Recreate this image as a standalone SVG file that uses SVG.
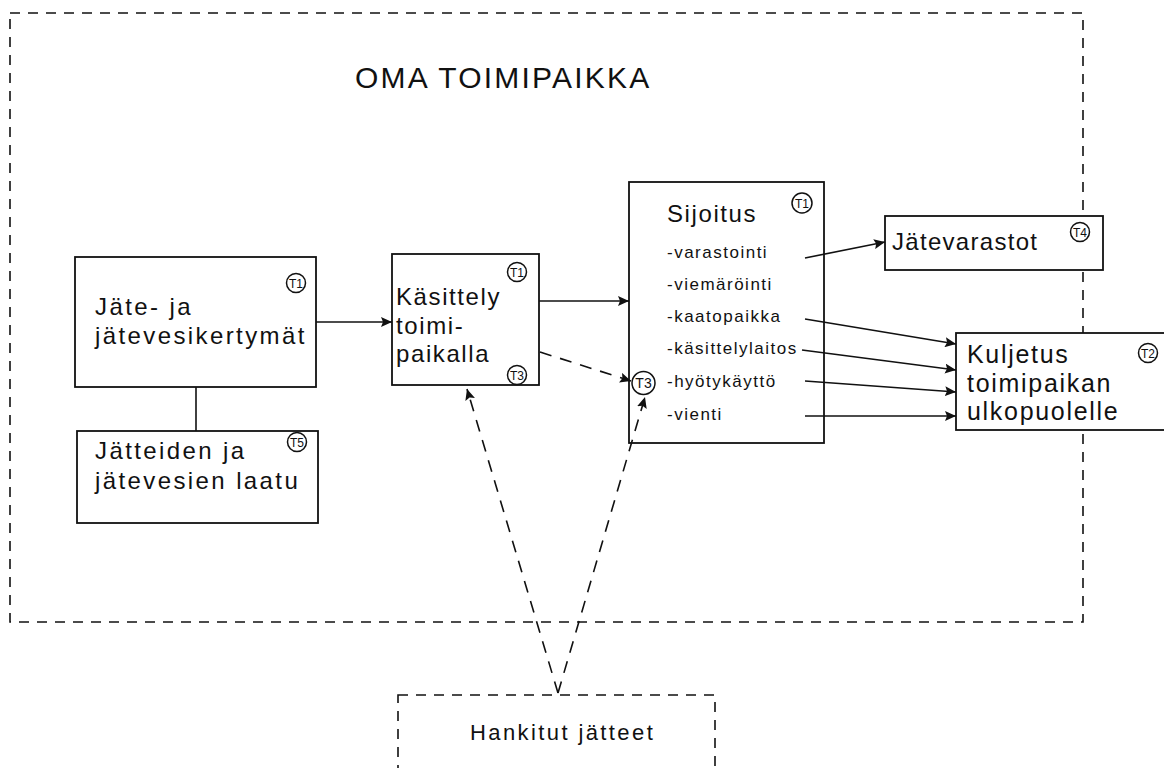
<svg xmlns="http://www.w3.org/2000/svg" width="1164" height="768" viewBox="0 0 1164 768">
<defs>
<marker id="ah" markerUnits="userSpaceOnUse" markerWidth="12" markerHeight="10" refX="11" refY="5" orient="auto">
<path d="M0,0 L11,5 L0,10 L2,5 z" fill="#111"/>
</marker>
<style>
.box{fill:#fff;stroke:#111;stroke-width:1.8}
.dbox{fill:none;stroke:#111;stroke-width:1.6;stroke-dasharray:10 8}
.lbl{font-family:"Liberation Sans",Arial,sans-serif;font-size:24px;fill:#111;letter-spacing:1.6px}
.wide{letter-spacing:2.4px}
.sub{font-family:"Liberation Sans",Arial,sans-serif;font-size:17px;fill:#111;letter-spacing:1.5px}
.tag{fill:#fff;stroke:#111;stroke-width:1.5}
.tagt{font-family:"Liberation Sans",Arial,sans-serif;font-size:12px;fill:#111;text-anchor:middle}
.ln{stroke:#111;stroke-width:1.6;fill:none}
.dl{stroke:#111;stroke-width:1.6;fill:none;stroke-dasharray:12 9}
</style>
</defs>
<rect fill="#fff" width="1164" height="768"/>

<g id="oma-toimipaikka">
<rect class="dbox" x="10" y="13" width="1073" height="609"/>
<text class="lbl" x="355" y="88" style="font-size:30px;letter-spacing:2.2px">OMA TOIMIPAIKKA</text>
</g>

<g id="hankitut">
<rect class="dbox" x="398" y="695" width="317" height="110"/>
<text class="lbl wide" x="470" y="740" style="font-size:22px">Hankitut jätteet</text>
</g>

<g id="kertymat">
<rect class="box" x="75" y="257" width="241" height="130"/>
<text class="lbl wide" x="95" y="315">Jäte- ja</text>
<text class="lbl wide" x="95" y="344">jätevesikertymät</text>
<circle class="tag" cx="296" cy="283" r="9.5"/><text class="tagt" x="296" y="287.5">T1</text>
</g>

<g id="laatu">
<rect class="box" x="77" y="431" width="241" height="92"/>
<text class="lbl wide" x="95" y="459">Jätteiden ja</text>
<text class="lbl wide" x="95" y="489">jätevesien laatu</text>
<circle class="tag" cx="297" cy="442" r="9.5"/><text class="tagt" x="297" y="446.5">T5</text>
</g>

<g id="kasittely">
<rect class="box" x="392" y="254" width="147" height="131"/>
<text class="lbl" x="396" y="305">Käsittely</text>
<text class="lbl" x="396" y="334">toimi-</text>
<text class="lbl" x="396" y="362">paikalla</text>
<circle class="tag" cx="517" cy="272" r="9.5"/><text class="tagt" x="517" y="276.5">T1</text>
<circle class="tag" cx="517" cy="375" r="9.5"/><text class="tagt" x="517" y="379.5">T3</text>
</g>

<g id="sijoitus">
<rect class="box" x="629" y="182" width="195" height="261"/>
<text class="lbl" x="667" y="222">Sijoitus</text>
<circle class="tag" cx="802" cy="203" r="10"/><text class="tagt" x="802" y="207.5">T1</text>
<text class="sub" x="667" y="258">-varastointi</text>
<text class="sub" x="667" y="290">-viemäröinti</text>
<text class="sub" x="667" y="322">-kaatopaikka</text>
<text class="sub" x="667" y="354">-käsittelylaitos</text>
<text class="sub" x="667" y="387">-hyötykäyttö</text>
<text class="sub" x="667" y="420">-vienti</text>
<circle class="tag" cx="643.5" cy="383" r="11.5"/><text class="tagt" x="643.5" y="388" style="font-size:14px">T3</text>
</g>

<g id="jatevarastot">
<rect class="box" x="885" y="216" width="218" height="54"/>
<text class="lbl" x="892" y="250" style="letter-spacing:1.3px">Jätevarastot</text>
<circle class="tag" cx="1080" cy="232" r="9.5"/><text class="tagt" x="1080" y="236.5">T4</text>
</g>

<g id="kuljetus">
<rect class="box" x="956" y="333" width="220" height="97"/>
<text class="lbl" x="967" y="363" style="font-size:25px;letter-spacing:1.7px">Kuljetus</text>
<text class="lbl" x="967" y="392" style="font-size:25px;letter-spacing:1.7px">toimipaikan</text>
<text class="lbl" x="967" y="420" style="font-size:25px;letter-spacing:1.7px">ulkopuolelle</text>
<circle class="tag" cx="1148" cy="353" r="9.5"/><text class="tagt" x="1148" y="357.5">T2</text>
</g>

<g id="connectors">
<line class="ln" x1="316" y1="322" x2="392" y2="322" marker-end="url(#ah)"/>
<line class="ln" x1="196" y1="387" x2="196" y2="431"/>
<line class="ln" x1="539" y1="301" x2="629" y2="301" marker-end="url(#ah)"/>
<line class="dl" x1="540" y1="352" x2="631" y2="381" marker-end="url(#ah)"/>
<line class="ln" x1="805" y1="258" x2="885" y2="242" marker-end="url(#ah)"/>
<line class="ln" x1="805" y1="319" x2="956" y2="344" marker-end="url(#ah)"/>
<line class="ln" x1="802" y1="350" x2="956" y2="370" marker-end="url(#ah)"/>
<line class="ln" x1="805" y1="381" x2="956" y2="392" marker-end="url(#ah)"/>
<line class="ln" x1="805" y1="416" x2="956" y2="416" marker-end="url(#ah)"/>
<line class="dl" x1="558" y1="693" x2="467" y2="389" marker-end="url(#ah)"/>
<line class="dl" x1="558" y1="693" x2="645" y2="397" marker-end="url(#ah)"/>
</g>
</svg>
